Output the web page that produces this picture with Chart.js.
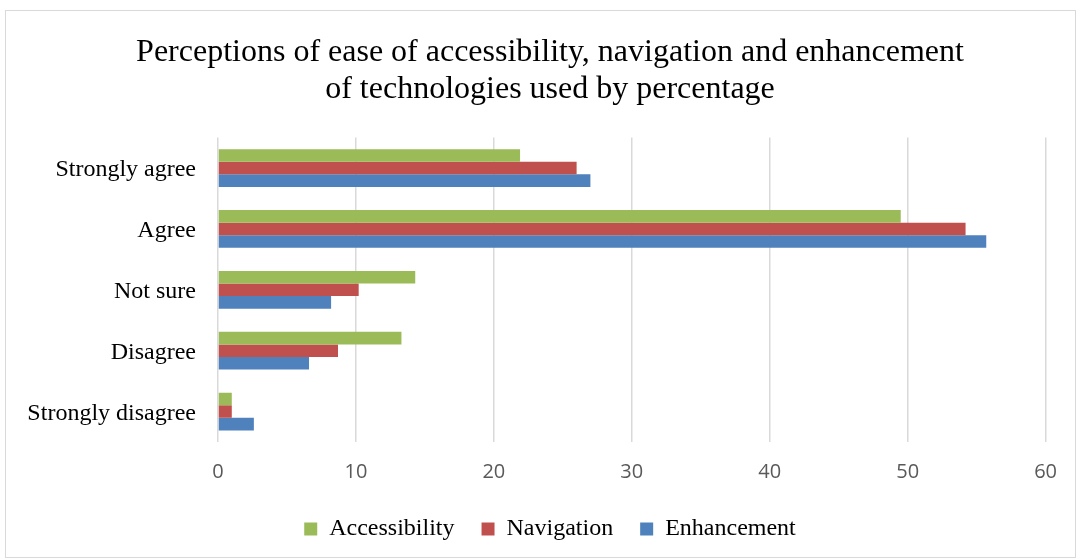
<!DOCTYPE html>
<html>
<head>
<meta charset="utf-8">
<script src="https://cdn.jsdelivr.net/npm/chart.js@4/dist/chart.umd.min.js"></script>
<style>
  html, body { margin: 0; padding: 0; background: #fff; }
  #box {
    position: absolute; left: 5px; top: 10px;
    width: 1069px; height: 546px;
    border: 1px solid #d9d9d9;
  }
</style>
</head>
<body>
<div id="box"><canvas id="mychart" width="1069" height="546"></canvas></div>
<script>
const categories = ['Strongly agree', 'Agree', 'Not sure', 'Disagree', 'Strongly disagree'];
const accessibility = [21.9, 49.5, 14.3, 13.3, 1.0];
const navigation = [26.0, 54.2, 10.2, 8.7, 1.0];
const enhancement = [27.0, 55.7, 8.2, 6.6, 2.6];
const xTicks = [0, 10, 20, 30, 40, 50, 60];

const serif = '"Liberation Serif", "Times New Roman", serif';

const ctx = document.getElementById('mychart').getContext('2d');
new Chart(ctx, {
  type: 'bar',
  data: {
    labels: categories,
    datasets: [
      { label: 'Accessibility', data: accessibility, backgroundColor: '#9bbb59' },
      { label: 'Navigation', data: navigation, backgroundColor: '#c0504d' },
      { label: 'Enhancement', data: enhancement, backgroundColor: '#4f81bd' }
    ]
  },
  options: {
    indexAxis: 'y',
    responsive: false,
    animation: false,
    categoryPercentage: 0.62,
    barPercentage: 1.0,
    layout: { padding: { left: 19, right: 0, top: 0, bottom: 6 } },
    plugins: {
      title: {
        display: true,
        text: ['Perceptions of ease of accessibility, navigation and enhancement',
               'of technologies used by percentage'],
        color: '#000',
        font: { family: serif, size: 32, weight: 'normal', lineHeight: 1.15 },
        padding: { top: 23, bottom: 30 }
      },
      legend: {
        position: 'bottom',
        labels: {
          color: '#000',
          boxWidth: 13,
          boxHeight: 13,
          padding: 15,
          font: { family: serif, size: 24 },
          // wider gap between legend entries
          generateLabels: (chart) => {
            const items = Chart.defaults.plugins.legend.labels.generateLabels(chart);
            items.forEach((it, i) => { if (i < items.length - 1) it.text += '  '; });
            return items;
          }
        }
      },
      tooltip: { enabled: false }
    },
    scales: {
      x: {
        min: 0,
        max: 60,
        afterBuildTicks: (s) => { s.ticks = xTicks.map(v => ({ value: v })); },
        grid: { color: '#d9d9d9', lineWidth: 1.5, drawTicks: false },
        border: { display: false },
        ticks: {
          color: '#595959',
          padding: 18,
          font: { family: '"Open Sans", sans-serif', size: 20 }
        }
      },
      y: {
        afterFit: (s) => { s.width = 193; },
        grid: { display: false, drawTicks: false },
        border: { display: false },
        ticks: {
          color: '#000',
          padding: 22,
          labelOffset: 2,
          font: { family: serif, size: 24 }
        }
      },
      // empty right-hand gutter so the plot stops short of the frame
      yRight: {
        axis: 'y',
        position: 'right',
        grid: { display: false, drawTicks: false },
        border: { display: false },
        ticks: { display: false },
        afterFit: (s) => { s.width = 28; }
      }
    }
  }
});
</script>
</body>
</html>
